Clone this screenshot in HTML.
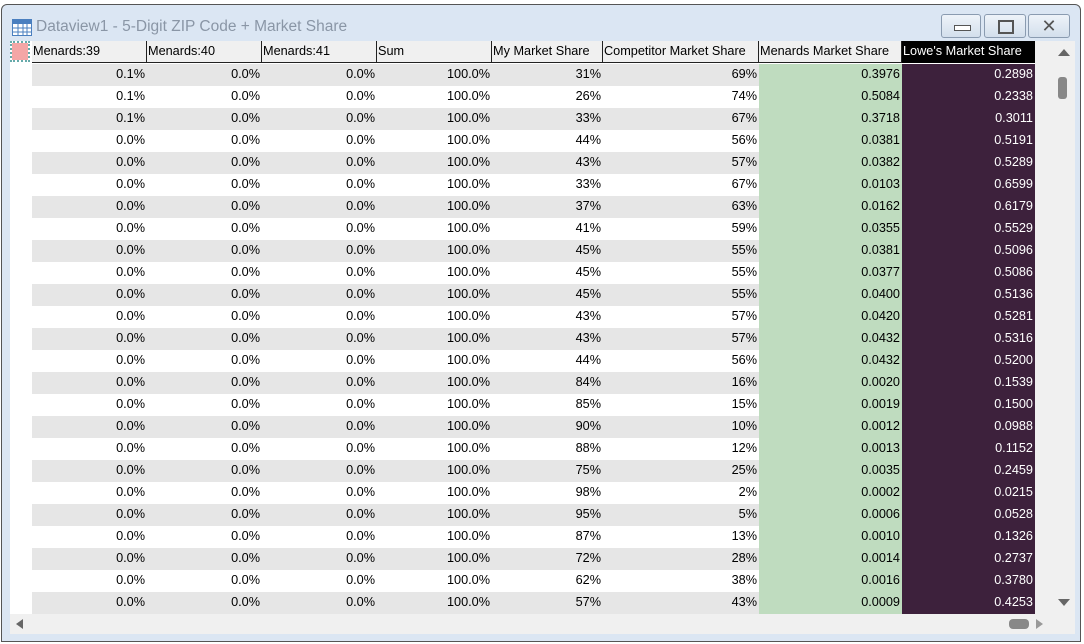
<!DOCTYPE html>
<html><head><style>
body{margin:0;width:1084px;height:644px;overflow:hidden;background:#fff;font-family:"Liberation Sans",sans-serif;font-size:12.7px;position:relative}
.win{position:absolute;left:1px;top:4px;width:1080px;height:638px;background:#dbe6f3;border:1px solid #555;border-radius:6px 6px 0 0;box-sizing:border-box}
.title{position:absolute;left:36px;top:18px;font-size:15.5px;color:#8a96a6}
.btn{position:absolute;top:14px;height:24px;border:1px solid #8a9bb0;border-radius:3px;background:linear-gradient(#eef3f9,#d3dfec);box-sizing:border-box}
.grid{position:absolute;left:10px;top:41px;width:1065px;height:573px;background:#fff;overflow:hidden}
.hdr{position:absolute;top:0;height:22px;line-height:21px;background:#f0f0f0;border-right:1px solid #222;border-bottom:1px solid #222;box-sizing:border-box;padding-left:1px;color:#000;white-space:nowrap}
.row{position:absolute;left:22px;height:22px;width:1003px}
.c{position:absolute;top:0;height:22px;line-height:21px;text-align:right;box-sizing:border-box;padding-right:2px}
.hs{position:absolute;left:10px;top:614px;width:1065px;height:20px;background:#f0f0f0}
</style></head><body>
<div class="win"></div>
<svg style="position:absolute;left:12px;top:19px" width="20" height="17"><rect x="0.5" y="0.5" width="19" height="16" fill="#fff" stroke="#4a7fbf"/><rect x="1" y="1" width="18" height="4" fill="#4a7fbf"/><path d="M1 9h18M1 13h18M6 5v12M11 5v12M15 5v12" stroke="#4a7fbf"/></svg>
<div class="title">Dataview1 - 5-Digit ZIP Code + Market Share</div>
<div class="btn" style="left:941px;width:40px"><div style="position:absolute;left:12px;top:10px;width:15px;height:4px;border:1px solid #555;background:#fff"></div></div>
<div class="btn" style="left:984px;width:42px"><div style="position:absolute;left:13px;top:5px;width:12px;height:10px;border:2px solid #555"></div></div>
<div class="btn" style="left:1028px;width:42px;text-align:center;font-size:18px;line-height:22px;color:#555">✕</div>
<div class="grid">
<div style="position:absolute;left:2px;top:2px;width:16px;height:17px;background:#f4a6a6;outline:2px dotted #6aa"></div>
<div class="hdr" style="left:22px;width:115px">Menards:39</div>
<div class="hdr" style="left:137px;width:115px">Menards:40</div>
<div class="hdr" style="left:252px;width:115px">Menards:41</div>
<div class="hdr" style="left:367px;width:115px">Sum</div>
<div class="hdr" style="left:482px;width:111px">My Market Share</div>
<div class="hdr" style="left:593px;width:156px">Competitor Market Share</div>
<div class="hdr" style="left:749px;width:143px">Menards Market Share</div>
<div class="hdr" style="left:892px;width:133px;background:#000;color:#fff;border-color:#000">Lowe's Market Share</div>
<div style="position:absolute;left:1025px;top:0;width:40px;height:573px;background:#f0f0f0"></div>
<div style="position:absolute;left:1048px;top:8px;width:0;height:0;border-left:6px solid transparent;border-right:6px solid transparent;border-bottom:7px solid #666"></div>
<div style="position:absolute;left:1048px;top:36px;width:9px;height:22px;background:#888;border-radius:3px"></div>
<div style="position:absolute;left:1048px;top:558px;width:0;height:0;border-left:6px solid transparent;border-right:6px solid transparent;border-top:7px solid #666"></div>
<div id="rows"></div>
</div>
<div class="hs"><div style="position:absolute;left:6px;top:5px;border-top:5px solid transparent;border-bottom:5px solid transparent;border-right:7px solid #666"></div>
<div style="position:absolute;left:999px;top:5px;width:20px;height:10px;background:#888;border-radius:4px"></div>
<div style="position:absolute;left:1026px;top:5px;border-top:5px solid transparent;border-bottom:5px solid transparent;border-left:7px solid #999"></div></div>
<script>
var d=[["0.1%",31,.3976,.2898],["0.1%",26,.5084,.2338],["0.1%",33,.3718,.3011],["0.0%",44,.0381,.5191],["0.0%",43,.0382,.5289],["0.0%",33,.0103,.6599],["0.0%",37,.0162,.6179],["0.0%",41,.0355,.5529],["0.0%",45,.0381,.5096],["0.0%",45,.0377,.5086],["0.0%",45,.04,.5136],["0.0%",43,.042,.5281],["0.0%",43,.0432,.5316],["0.0%",44,.0432,.52],["0.0%",84,.002,.1539],["0.0%",85,.0019,.15],["0.0%",90,.0012,.0988],["0.0%",88,.0013,.1152],["0.0%",75,.0035,.2459],["0.0%",98,.0002,.0215],["0.0%",95,.0006,.0528],["0.0%",87,.001,.1326],["0.0%",72,.0014,.2737],["0.0%",62,.0016,.378],["0.0%",57,.0009,.4253]];
var h="";d.forEach(function(r,i){var bg=i%2?"#fff":"#e6e6e6";
var cols=[[0,115,r[0]],[115,115,"0.0%"],[230,115,"0.0%"],[345,115,"100.0%"],[460,111,r[1]+"%"],[571,156,(100-r[1])+"%"]];
h+='<div class="row" style="top:'+(23+22*i)+'px;background:'+bg+'">';
cols.forEach(function(c){h+='<div class="c" style="left:'+c[0]+'px;width:'+c[1]+'px">'+c[2]+'</div>'});
h+='<div class="c" style="left:727px;width:143px;background:#bfdcbf">'+r[2].toFixed(4)+'</div>';
h+='<div class="c" style="left:870px;width:133px;background:#3d213c;color:#fff">'+r[3].toFixed(4)+'</div></div>';});
document.getElementById("rows").innerHTML=h;
</script>
</body></html>
